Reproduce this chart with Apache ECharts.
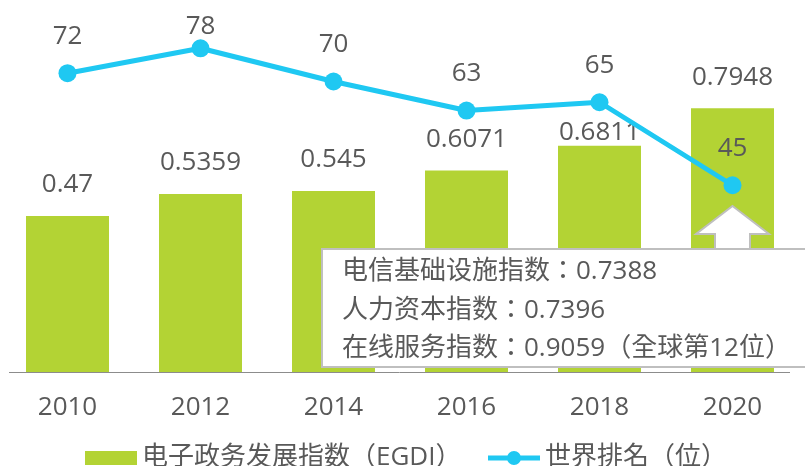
<!DOCTYPE html>
<html>
<head>
<meta charset="utf-8">
<script src="https://cdn.jsdelivr.net/npm/echarts@6/dist/echarts.min.js"></script>
<style>
  html, body { margin: 0; padding: 0; background: #fff; }
  #chart { width: 805px; height: 466px; }
</style>
</head>
<body>
<div id="chart"></div>
<script>
// 数据
const years = ["2010", "2012", "2014", "2016", "2018", "2020"]
const egdi = [0.47, 0.5359, 0.545, 0.6071, 0.6811, 0.7948]
const rank = [72, 78, 70, 63, 65, 45]
const notes = [
  "电信基础设施指数：0.7388",
  "人力资本指数：0.7396",
  "在线服务指数：0.9059（全球第12位）",
]

const FONT = "'Open Sans', 'Noto Sans CJK SC', sans-serif"
const FONT_TC = "'Open Sans', 'Noto Sans CJK TC', sans-serif"
const FONT_KR = "'Open Sans', 'Noto Sans CJK KR', sans-serif"
const TEXT = "#595959"
const GREEN = "#b3d334"
const BLUE = "#1fc8f2"

const chart = echarts.init(document.getElementById("chart"))

// 个别标签位置微调（避免重叠）
const barData = egdi.map((v, i) => {
  if (years[i] === "2018") return { value: v, label: { distance: 0 } }
  return v
})
const lineData = rank.map((v, i) => {
  if (years[i] === "2012") return { value: v, label: { distance: 0 } }
  return v
})

// 图例里的折线图标：粗线 + 圆点
const lineIcon = "path://M0,4.5H52V9.5H0Z M19,7A7,7 0 1,1 33,7A7,7 0 1,1 19,7Z"

const legendBase = {
  top: 445,
  padding: 0,
  itemWidth: 52,
  itemHeight: 14,
  textStyle: { fontSize: 26, color: TEXT, fontFamily: FONT_KR },
}

const option = {
  animation: false,
  textStyle: { fontFamily: FONT },
  grid: { left: 1, right: 6, top: 40, bottom: 94 },
  legend: [
    { ...legendBase, left: 85, data: [{ name: "电子政务发展指数（EGDI）", icon: "rect" }] },
    { ...legendBase, left: 488, data: [{ name: "世界排名（位）", icon: lineIcon }] },
  ],
  xAxis: {
    type: "category",
    data: years,
    axisLine: { show: false },
    axisTick: { show: false },
    axisLabel: { fontSize: 26, color: TEXT, margin: 23, fontFamily: FONT },
  },
  yAxis: [
    { type: "value", min: 0, max: 1, show: false },
    { type: "value", min: 0, max: 80, show: false },
  ],
  series: [
    {
      name: "电子政务发展指数（EGDI）",
      type: "bar",
      barWidth: 83,
      data: barData,
      itemStyle: { color: GREEN },
      label: {
        show: true,
        position: "top",
        distance: 18,
        fontSize: 26,
        color: TEXT,
        fontFamily: FONT,
      },
    },
    {
      name: "世界排名（位）",
      type: "line",
      yAxisIndex: 1,
      data: lineData,
      symbol: "circle",
      symbolSize: 18,
      lineStyle: { color: BLUE, width: 5 },
      itemStyle: { color: BLUE },
      label: {
        show: true,
        position: "top",
        distance: 15,
        fontSize: 26,
        color: TEXT,
        fontFamily: FONT,
      },
      z: 3,
    },
  ],
  graphic: [
    // 横轴线
    {
      type: "line",
      z: 50,
      shape: { x1: 9, y1: 372.5, x2: 790, y2: 372.5 },
      style: { stroke: "#8c8c8c", lineWidth: 1 },
    },
    // 向上箭头
    {
      type: "polygon",
      z: 100,
      shape: {
        points: [
          [732.5, 206], [769, 234], [750, 234], [750, 250],
          [715, 250], [715, 234], [696, 234],
        ],
      },
      style: { fill: "#fff", stroke: "#bfbfbf", lineWidth: 2 },
    },
    // 说明框
    {
      type: "rect",
      z: 100,
      shape: { x: 322, y: 249, width: 520, height: 118 },
      style: { fill: "#fff", stroke: "#bfbfbf", lineWidth: 2 },
    },
    ...notes.map((t, i) => ({
      type: "text",
      z: 101,
      x: 342,
      y: [272, 311, 349][i],
      style: {
        text: t,
        fill: TEXT,
        fontSize: 26,
        fontFamily: FONT_TC,
        verticalAlign: "middle",
      },
    })),
  ],
}

chart.setOption(option)
</script>
</body>
</html>
